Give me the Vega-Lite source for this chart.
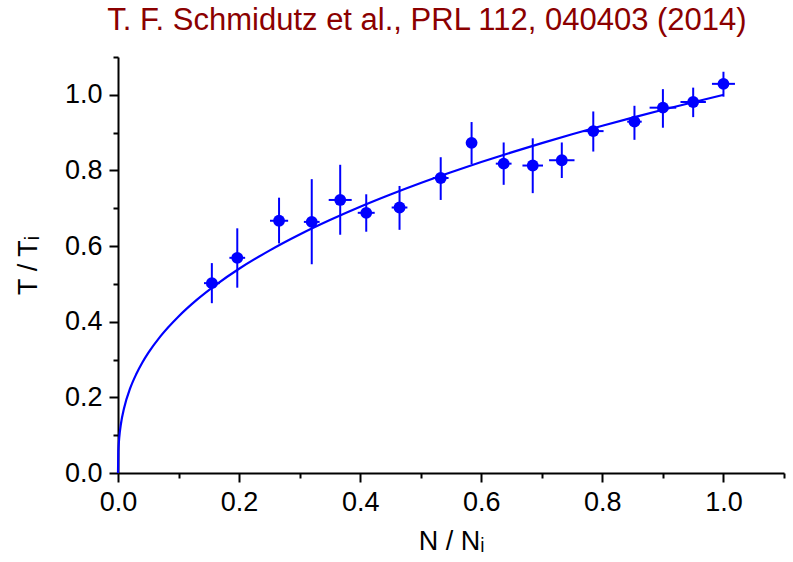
{
  "$schema": "https://vega.github.io/schema/vega-lite/v6.json",
  "autosize": "none",
  "width": 666,
  "height": 416,
  "padding": {"left": 118, "top": 57, "right": 9, "bottom": 89},
  "background": "white",
  "title": {
    "text": "T. F. Schmidutz et al., PRL 112, 040403 (2014)",
    "color": "#8B0000",
    "font": "Liberation Sans",
    "fontSize": 31,
    "fontWeight": "normal",
    "anchor": "middle",
    "dx": -24,
    "offset": 19
  },
  "config": {
    "view": {"stroke": null},
    "axis": {
      "grid": false,
      "domainColor": "black",
      "domainWidth": 2,
      "tickColor": "black",
      "tickWidth": 2,
      "labelFont": "Liberation Sans",
      "labelFontSize": 27,
      "labelColor": "black",
      "titleFont": "Liberation Sans",
      "titleFontSize": 27,
      "titleFontWeight": "normal",
      "titleColor": "black",
      "labelOverlap": false,
      "labelBound": false,
      "labelFlush": false
    }
  },
  "resolve": {"axis": {"x": "independent", "y": "independent"}},
  "datasets": {
    "points": [
      {"x": 0.155, "y": 0.502, "xlo": 0.142, "xhi": 0.168, "ylo": 0.449, "yhi": 0.555},
      {"x": 0.197, "y": 0.569, "xlo": 0.184, "xhi": 0.210, "ylo": 0.490, "yhi": 0.647},
      {"x": 0.266, "y": 0.667, "xlo": 0.251, "xhi": 0.281, "ylo": 0.607, "yhi": 0.728},
      {"x": 0.320, "y": 0.664, "xlo": 0.307, "xhi": 0.333, "ylo": 0.552, "yhi": 0.777},
      {"x": 0.367, "y": 0.722, "xlo": 0.348, "xhi": 0.386, "ylo": 0.630, "yhi": 0.815},
      {"x": 0.410, "y": 0.688, "xlo": 0.396, "xhi": 0.424, "ylo": 0.638, "yhi": 0.737},
      {"x": 0.465, "y": 0.702, "xlo": 0.452, "xhi": 0.478, "ylo": 0.643, "yhi": 0.759},
      {"x": 0.533, "y": 0.780, "xlo": 0.520, "xhi": 0.546, "ylo": 0.722, "yhi": 0.835},
      {"x": 0.584, "y": 0.873, "xlo": 0.576, "xhi": 0.592, "ylo": 0.817, "yhi": 0.928},
      {"x": 0.637, "y": 0.818, "xlo": 0.624, "xhi": 0.650, "ylo": 0.762, "yhi": 0.874},
      {"x": 0.685, "y": 0.813, "xlo": 0.668, "xhi": 0.702, "ylo": 0.740, "yhi": 0.885},
      {"x": 0.733, "y": 0.827, "xlo": 0.712, "xhi": 0.754, "ylo": 0.780, "yhi": 0.874},
      {"x": 0.785, "y": 0.904, "xlo": 0.768, "xhi": 0.802, "ylo": 0.850, "yhi": 0.956},
      {"x": 0.853, "y": 0.929, "xlo": 0.841, "xhi": 0.865, "ylo": 0.881, "yhi": 0.971},
      {"x": 0.900, "y": 0.966, "xlo": 0.878, "xhi": 0.922, "ylo": 0.913, "yhi": 1.015},
      {"x": 0.950, "y": 0.981, "xlo": 0.929, "xhi": 0.971, "ylo": 0.941, "yhi": 1.019},
      {"x": 1.000, "y": 1.029, "xlo": 0.981, "xhi": 1.019, "ylo": 0.995, "yhi": 1.061}
    ],
    "curve": [
      {"x": 0, "y": 0},
      {"x": 0.0005, "y": 0.0544},
      {"x": 0.001, "y": 0.0710},
      {"x": 0.002, "y": 0.0925},
      {"x": 0.005, "y": 0.1315},
      {"x": 0.01, "y": 0.1714},
      {"x": 0.02, "y": 0.2235},
      {"x": 0.03, "y": 0.2610},
      {"x": 0.04, "y": 0.2915},
      {"x": 0.05, "y": 0.3175},
      {"x": 0.07, "y": 0.3613},
      {"x": 0.1, "y": 0.4140},
      {"x": 0.13, "y": 0.4578},
      {"x": 0.16, "y": 0.4956},
      {"x": 0.2, "y": 0.5400},
      {"x": 0.25, "y": 0.5881},
      {"x": 0.3, "y": 0.6307},
      {"x": 0.35, "y": 0.6689},
      {"x": 0.4, "y": 0.7040},
      {"x": 0.45, "y": 0.7364},
      {"x": 0.5, "y": 0.7668},
      {"x": 0.55, "y": 0.7953},
      {"x": 0.6, "y": 0.8223},
      {"x": 0.65, "y": 0.8479},
      {"x": 0.7, "y": 0.8723},
      {"x": 0.75, "y": 0.8957},
      {"x": 0.8, "y": 0.9181},
      {"x": 0.85, "y": 0.9397},
      {"x": 0.9, "y": 0.9605},
      {"x": 0.95, "y": 0.9805},
      {"x": 1.0, "y": 1.0}
    ]
  },
  "layer": [
    {
      "data": {"name": "points"},
      "mark": {"type": "rule", "color": "#0000FF", "strokeWidth": 2},
      "encoding": {
        "x": {"field": "x", "type": "quantitative", "scale": {"domain": [0, 1.1], "nice": false, "zero": false},
              "axis": {"orient": "bottom", "values": [0.1, 0.3, 0.5, 0.7, 0.9, 1.1], "labels": false, "title": null, "tickSize": 5, "domain": false}},
        "y": {"field": "ylo", "type": "quantitative", "scale": {"domain": [0, 1.1], "nice": false, "zero": false},
              "axis": {"orient": "left", "values": [0.1, 0.3, 0.5, 0.7, 0.9, 1.1], "labels": false, "title": null, "tickSize": 5, "domain": false}},
        "y2": {"field": "yhi"}
      }
    },
    {
      "data": {"name": "curve"},
      "mark": {"type": "line", "color": "#0000FF", "strokeWidth": 2.2, "interpolate": "monotone"},
      "encoding": {
        "x": {"field": "x", "type": "quantitative",
              "axis": {"orient": "bottom", "values": [0, 0.2, 0.4, 0.6, 0.8, 1.0], "format": ".1f", "tickSize": 9, "labelPadding": 7, "title": "N / Nᵢ", "titlePadding": 13}},
        "y": {"field": "y", "type": "quantitative",
              "axis": {"orient": "left", "values": [0, 0.2, 0.4, 0.6, 0.8, 1.0], "format": ".1f", "tickSize": 9, "labelPadding": 7, "title": "T / Tᵢ", "titlePadding": 22}}
      }
    },
    {
      "data": {"name": "points"},
      "mark": {"type": "rule", "color": "#0000FF", "strokeWidth": 2},
      "encoding": {
        "x": {"field": "xlo", "type": "quantitative", "axis": null},
        "x2": {"field": "xhi"},
        "y": {"field": "y", "type": "quantitative", "axis": null}
      }
    },
    {
      "data": {"name": "points"},
      "mark": {"type": "point", "shape": "circle", "filled": true, "color": "#0000FF", "size": 140, "opacity": 1},
      "encoding": {
        "x": {"field": "x", "type": "quantitative", "axis": null},
        "y": {"field": "y", "type": "quantitative", "axis": null}
      }
    }
  ]
}
